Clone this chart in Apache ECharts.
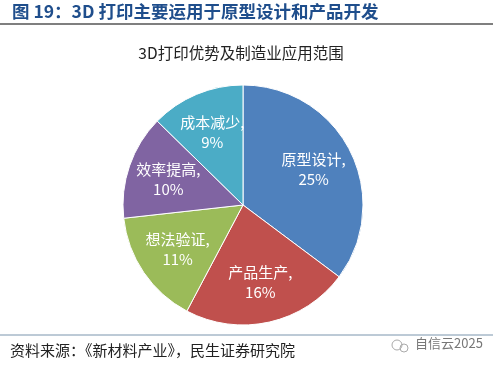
<!DOCTYPE html>
<html><head><meta charset="utf-8">
<script src="https://cdn.jsdelivr.net/npm/echarts@6/dist/echarts.min.js"></script>
<style>html,body{margin:0;padding:0;background:#fff}#c{width:493px;height:368px}</style>
</head><body><div id="c"></div>
<script>
const categories = ['原型设计', '产品生产', '想法验证', '效率提高', '成本减少'];
const values = [25, 16, 11, 10, 9];
const colors = ['#4f81bd', '#c0504d', '#9bbb59', '#8064a2', '#4bacc6'];

const chart = echarts.init(document.getElementById('c'));
const base = {
  type: 'pie',
  center: [243, 205],
  startAngle: 90,
  clockwise: true,
  labelLine: { show: false }
};
chart.setOption({
  animation: false,
  backgroundColor: '#fff',
  title: {
    text: '3D打印优势及制造业应用范围',
    left: 236, textAlign: 'center',
    top: 40,
    textStyle: { fontSize: 15.5, fontWeight: 'normal', color: '#222', fontFamily: 'Noto Sans CJK SC' }
  },
  graphic: [
    { type: 'text', left: 12, top: 3, style: { text: '图 19：3D 打印主要运用于原型设计和产品开发', font: 'bold 17.5px "Noto Sans CJK SC"', fill: '#1f4e8c' } },
    { type: 'line', shape: { x1: 0, y1: 24, x2: 493, y2: 24 }, style: { stroke: '#555', lineWidth: 1.5 } },
    { type: 'line', shape: { x1: 0, y1: 335, x2: 493, y2: 335 }, style: { stroke: '#7a95ad', lineWidth: 1 } },
    { type: 'text', left: 10, top: 343, style: { text: '资料来源：《新材料产业》，民生证券研究院', font: '15px "Noto Sans CJK SC"', fill: '#222' } },
    { type: 'text', left: 415, top: 337, style: { text: '自信云2025', font: '13px "Noto Sans CJK SC"', fill: '#777' } },
    { type: 'circle', shape: { cx: 397, cy: 345, r: 5 }, style: { fill: 'none', stroke: '#aaa', lineWidth: 1 } },
    { type: 'circle', shape: { cx: 404, cy: 348, r: 4 }, style: { fill: 'none', stroke: '#aaa', lineWidth: 1 } }
  ],
  series: [
    Object.assign({}, base, {
      radius: 120,
      label: { show: false },
      itemStyle: { borderColor: '#fff', borderWidth: 1 },
      data: categories.map((n, i) => ({ name: n, value: values[i], itemStyle: { color: colors[i] } }))
    }),
    Object.assign({}, base, {
      radius: [32, 120],
      silent: true,
      itemStyle: { color: 'rgba(0,0,0,0)' },
      label: {
        position: 'inside',
        color: '#fff',
        fontSize: 15,
        lineHeight: 20,
        fontFamily: 'Noto Sans CJK SC',
        formatter: p => p.name + ',\n' + p.value + '%'
      },
      labelLayout: { hideOverlap: false },
      data: categories.map((n, i) => ({ name: n, value: values[i] }))
    })
  ]
});
</script></body></html>
